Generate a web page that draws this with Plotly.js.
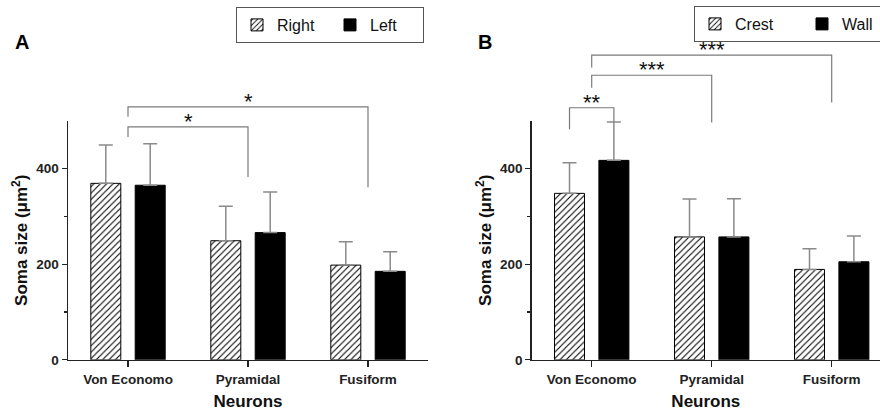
<!DOCTYPE html>
<html>
<head>
<meta charset="utf-8">
<script src="https://cdn.plot.ly/plotly-3.0.1.min.js"></script>
<style>html,body{margin:0;padding:0;background:#fff;}#chart{width:880px;height:411px;}</style>
</head>
<body>
<div id="chart"></div>
<script>
// ---- data ----
const categories = ["Von Economo", "Pyramidal", "Fusiform"];
const rightMean = [369, 249, 198];
const rightSD   = [80, 72, 49];
const leftMean  = [365, 266, 185];
const leftSD    = [87, 85, 41];
const crestMean = [348, 257, 189];
const crestSD   = [64, 79, 43];
const wallMean  = [417, 257, 205];
const wallSD    = [80, 80, 54];
const yTickVals = [0, 200, 400];
const yMinorVals = [100, 300];

// significance brackets: [xLeft, xRight, yTop, yLeftEnd, yRightEnd, label]
const bracketsA = [
  [0, 2, 529, 508, 361, "*"],
  [0, 1, 487, 466, 382, "*"]
];
const bracketsB = [
  [-0.185, 0.185, 527, 482, 497, "**"],
  [0, 1, 595, 569, 496, "***"],
  [0, 2, 637, 611, 538, "***"]
];

// ---- layout helpers ----
const Y_MAX = 500;
const yDom = [0.1245, 0.7064];
const toPaper = v => yDom[0] + (v / Y_MAX) * (yDom[1] - yDom[0]);
const zeros = categories.map(() => 0);
const FONT = "Liberation Sans, Arial, sans-serif";

function hatchTrace(name, y, sd, xa, ya, legend) {
  return {
    type: "bar", name: name, x: categories, y: y, xaxis: xa, yaxis: ya, legend: legend,
    width: 0.25, offset: -0.31,
    marker: {color: "white", line: {color: "black", width: 1},
             pattern: {shape: "/", fgcolor: "black", bgcolor: "white", size: 4.5, solidity: 0.24}},
    error_y: {type: "data", symmetric: false, array: sd, arrayminus: zeros,
              color: "#8a8a8a", thickness: 1.5, width: 7},
    hoverinfo: "skip"
  };
}
function solidTrace(name, y, sd, xa, ya, legend) {
  return {
    type: "bar", name: name, x: categories, y: y, xaxis: xa, yaxis: ya, legend: legend,
    width: 0.25, offset: 0.06,
    marker: {color: "black", line: {color: "black", width: 1}},
    error_y: {type: "data", symmetric: false, array: sd, arrayminus: zeros,
              color: "#8a8a8a", thickness: 1.5, width: 7},
    hoverinfo: "skip"
  };
}

const data = [
  hatchTrace("Right", rightMean, rightSD, "x", "y", "legend"),
  solidTrace("Left", leftMean, leftSD, "x", "y", "legend"),
  hatchTrace("Crest", crestMean, crestSD, "x2", "y2", "legend2"),
  solidTrace("Wall", wallMean, wallSD, "x2", "y2", "legend2")
];

const shapes = [];
const annotations = [];
function addBrackets(list, xref) {
  list.forEach(b => {
    const [x0, x1, yt, yl, yr, lab] = b;
    shapes.push({
      type: "path", xref: xref, yref: "paper",
      path: `M${x0},${toPaper(yl)} L${x0},${toPaper(yt)} L${x1},${toPaper(yt)} L${x1},${toPaper(yr)}`,
      line: {color: "#7a7a7a", width: 1.2}
    });
    annotations.push({
      xref: xref, yref: "paper", x: (x0 + x1) / 2, y: toPaper(yt), yanchor: "bottom",
      yshift: -9, text: lab, showarrow: false,
      font: {family: FONT, size: 22, color: "#111"}
    });
  });
}
addBrackets(bracketsA, "x");
addBrackets(bracketsB, "x2");

annotations.push({xref: "paper", yref: "paper", x: 13/880, y: (411-42)/411, xanchor: "left", yanchor: "middle",
  text: "<b>A</b>", showarrow: false, font: {family: FONT, size: 20, color: "#000"}});
annotations.push({xref: "paper", yref: "paper", x: 476/880, y: (411-42)/411, xanchor: "left", yanchor: "middle",
  text: "<b>B</b>", showarrow: false, font: {family: FONT, size: 20, color: "#000"}});

function xAxis(domain, range) {
  return {
    domain: domain, range: range, type: "category",
    showline: true, linecolor: "#222", linewidth: 1.5,
    ticks: "outside", ticklen: 6, tickcolor: "#222", tickwidth: 1.2,
    tickfont: {family: FONT, size: 13.5, color: "#222", weight: "bold"},
    showgrid: false, zeroline: false,
    title: {text: "<b>Neurons</b>", font: {family: FONT, size: 17, color: "#111"}, standoff: 16}
  };
}
function yAxis(anchor) {
  return {
    domain: yDom, range: [0, Y_MAX], anchor: anchor,
    showline: true, linecolor: "#222", linewidth: 1.5,
    tickvals: yTickVals, ticks: "outside", ticklen: 5, tickcolor: "#222", tickwidth: 1.2,
    minor: {tickvals: yMinorVals, ticks: "outside", ticklen: 3, tickcolor: "#222"},
    tickfont: {family: FONT, size: 13.5, color: "#222", weight: "bold"},
    showgrid: false, zeroline: false,
    title: {text: "<b>Soma size (μm<sup>2</sup>)</b>", font: {family: FONT, size: 17, color: "#111"}, standoff: 4}
  };
}

const layout = {
  width: 880, height: 411,
  margin: {l: 0, r: 0, t: 0, b: 0, autoexpand: false},
  paper_bgcolor: "white", plot_bgcolor: "white",
  barmode: "overlay",
  xaxis: Object.assign(xAxis([68/880, 428/880], [-0.5, 2.5]), {anchor: "y"}),
  yaxis: yAxis("x"),
  xaxis2: Object.assign(xAxis([531.7/880, 1], [-0.5, 2.4025]), {anchor: "y2"}),
  yaxis2: yAxis("x2"),
  legend: {orientation: "h", x: 236/880, y: (411-7)/411, xanchor: "left", yanchor: "top",
           bordercolor: "#555", borderwidth: 1, bgcolor: "white", entrywidth: 48,
           font: {family: FONT, size: 16, color: "#111"}},
  legend2: {orientation: "h", x: 694/880, y: (411-6)/411, xanchor: "left", yanchor: "top",
            bordercolor: "#555", borderwidth: 1, bgcolor: "white", entrywidth: 62,
            font: {family: FONT, size: 16, color: "#111"}},
  shapes: shapes,
  annotations: annotations,
  showlegend: true
};

Plotly.newPlot("chart", data, layout, {staticPlot: true, displayModeBar: false});
</script>
</body>
</html>
